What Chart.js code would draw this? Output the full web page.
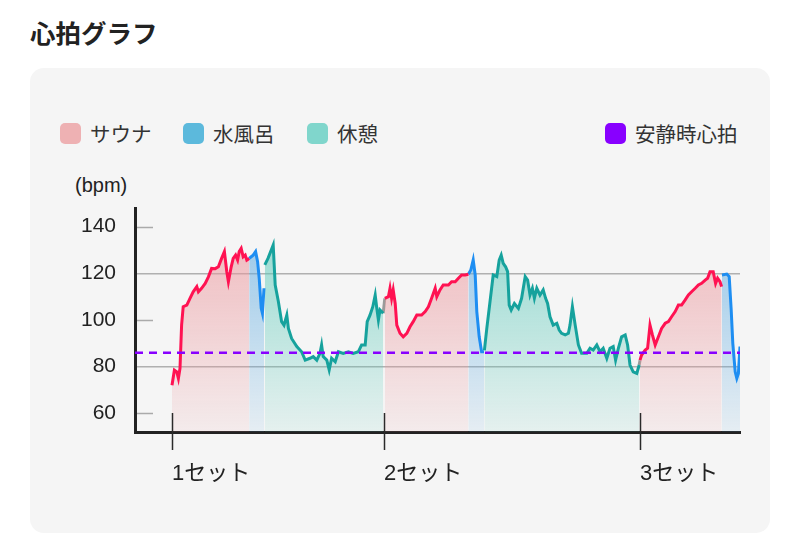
<!DOCTYPE html>
<html lang="ja">
<head>
<meta charset="utf-8">
<title>心拍グラフ</title>
<script src="https://cdn.jsdelivr.net/npm/chart.js@4.4.1/dist/chart.umd.min.js"></script>
<style>
  body { margin: 0; background: #fff; font-family: "Noto Sans CJK JP", sans-serif; color: #222; }
  .page { position: relative; width: 800px; height: 538px; overflow: hidden; }
  h1 { position: absolute; left: 30px; top: 14px; margin: 0; font-size: 25.5px; font-weight: 700; line-height: 36px; }
  .card { position: absolute; left: 30px; top: 68px; width: 740px; height: 465px; background: #f5f5f5; border-radius: 14px; }
  .legend-item { position: absolute; top: 121px; height: 24px; display: flex; align-items: center; font-size: 20.5px; color: #333; }
  .swatch { width: 21px; height: 21px; border-radius: 5px; margin-right: 9px; }
  .unit { position: absolute; left: 75px; top: 173px; font-family: "Liberation Sans", "Noto Sans CJK JP", sans-serif; font-size: 20px; line-height: 24px; color: #222; }
  .chart-box { position: absolute; left: 40px; top: 190px; width: 720px; height: 320px; }
</style>
</head>
<body>
<div class="page">
  <h1>心拍グラフ</h1>
  <div class="card"></div>
  <div class="legend-item" style="left:60px"><span class="swatch" style="background:#eeb1b3"></span>サウナ</div>
  <div class="legend-item" style="left:183px"><span class="swatch" style="background:#5cb9dc"></span>水風呂</div>
  <div class="legend-item" style="left:307px"><span class="swatch" style="background:#80d6cc"></span>休憩</div>
  <div class="legend-item" style="left:605px"><span class="swatch" style="background:#8800ff"></span>安静時心拍</div>
  <div class="unit">(bpm)</div>
  <div class="chart-box"><canvas id="grafico"></canvas></div>
</div>
<script>
// 経過時間(分) と 心拍(bpm)
const sauna1Min = [0, 0.6, 1.2, 1.6, 2.0, 2.4, 2.8, 3.7, 4.5, 5.3, 6.2, 6.6, 7.4, 8.3, 9.1, 9.9, 10.8, 11.6, 12.4, 13.1, 13.7, 14.1, 14.8, 15.3, 15.9, 16.4, 16.8, 17.3, 17.8, 18.3, 18.7, 19.3];
const sauna1Bpm = [72, 78.5, 77.8, 75, 79.3, 97.8, 105.7, 106.4, 109.3, 112.1, 114.3, 112.1, 113.6, 115.7, 118.5, 122.1, 122, 122.8, 126.4, 129.3, 120.7, 116.4, 122.8, 126.4, 127.8, 125.7, 129.3, 130.7, 127.1, 127.8, 125.7, 126.4];
const cold1Min = [19.3, 19.8, 20.3, 20.9, 21.4, 21.8, 22.3, 22.6, 23.0];
const cold1Bpm = [126.4, 127.1, 127.8, 129.3, 125, 117.9, 105, 102.9, 113.6];
const rest1Min = [23.2, 24.0, 25.3, 25.8, 26.6, 27.4, 28.0, 28.7, 29.1, 29.9, 31.2, 32.4, 33.3, 34.5, 35.3, 36.2, 37.0, 37.4, 37.8, 38.7, 39.3, 39.9, 40.8, 41.6, 42.8, 44.1, 45.3, 46.6, 47.4, 48.3, 48.8, 49.5, 50.2, 50.8, 51.2, 51.6, 52.0, 52.8];
const rest1Bpm = [123.6, 126.4, 132.1, 115, 107.8, 99.3, 97.8, 102.1, 96.4, 92.1, 88.6, 86.4, 82.8, 83.6, 84.3, 82.8, 85.7, 89.3, 84.3, 82.8, 78.6, 83.6, 82.1, 86.4, 85.7, 86.4, 85.7, 86.4, 89.3, 89.3, 99.3, 102.1, 105.7, 110.7, 105, 100, 104.3, 102.9];
const sauna2Min = [53.2, 54.1, 54.5, 54.9, 55.3, 55.8, 56.2, 57.0, 57.8, 58.7, 59.5, 60.3, 61.2, 62.4, 63.3, 64.1, 64.9, 65.8, 66.2, 67.0, 67.8, 69.1, 69.9, 70.8, 71.6, 72.4, 73.3, 74.1];
const sauna2Bpm = [109.3, 110, 113.6, 109.3, 112.9, 107.1, 97.8, 94.3, 92.8, 94.3, 97.1, 99.3, 102.1, 102.1, 103.6, 105.7, 109.3, 113.6, 110, 112.9, 115, 115, 116.4, 116.4, 117.9, 119.3, 119.3, 119.6];
const cold2Min = [74.1, 74.7, 75.3, 75.8, 76.2, 76.8, 77.4, 78.0];
const cold2Bpm = [119.6, 121.4, 125.7, 119.3, 103.6, 92.8, 86.4, 86.4];
const rest2Min = [78.1, 78.7, 79.5, 80.3, 81.2, 81.8, 82.3, 82.8, 83.4, 83.9, 84.3, 84.8, 85.6, 86.6, 87.4, 88.3, 88.9, 89.5, 90.1, 90.6, 91.2, 92.0, 92.8, 93.4, 93.9, 94.5, 95.3, 96.2, 96.8, 97.4, 98.3, 99.1, 99.5, 100.1, 100.8, 101.6, 102.4, 103.7, 104.5, 105.3, 106.2, 107.0, 107.8, 108.7, 109.5, 110.3, 110.9, 111.6, 112.4, 113.3, 113.9, 114.5, 115.3, 116.2, 116.8];
const rest2Bpm = [87, 96.4, 107.8, 119.3, 118.6, 125.7, 127.8, 124.3, 122.8, 120.7, 106.4, 104.3, 107.1, 105, 109.3, 118.6, 117.1, 110.7, 113.6, 109.3, 113.6, 110.7, 112.9, 109.3, 107.1, 101.4, 97.8, 98.6, 95.7, 94.3, 93.6, 94.3, 97.8, 105.7, 97.8, 89.3, 85.7, 85.7, 87.9, 87.1, 89.3, 86.4, 87.9, 83.6, 87.9, 88.6, 82.8, 87.9, 92.8, 93.6, 89.3, 80.7, 77.8, 77.1, 80.7];
const sauna3Min = [117.0, 117.4, 118.3, 118.9, 119.5, 120.1, 120.8, 121.6, 122.4, 123.3, 124.1, 124.9, 125.8, 126.6, 127.4, 128.3, 129.1, 129.9, 130.8, 131.6, 132.4, 133.3, 133.9, 134.5, 135.3, 135.9, 136.4, 137.0, 137.4];
const sauna3Bpm = [82.8, 85, 87.1, 87.9, 97.8, 93.6, 89.3, 92.8, 96.4, 98.6, 99.3, 101.4, 103.6, 106.4, 106.4, 108.6, 110.7, 112.1, 113.6, 115, 115.7, 117.1, 117.9, 120.7, 120.7, 115.7, 117.9, 116.4, 114.3];
const cold3Min = [137.5, 138.7, 139.3, 139.8, 140.2, 140.8, 141.2, 141.6, 142.0];
const cold3Bpm = [119.3, 119.7, 118.6, 104.3, 90, 77.8, 75, 77.1, 88.6];
// セット開始のつなぎ(灰色)
const link2Min = [52.8, 53.2];
const link2Bpm = [102.9, 109.3];
const link3Min = [116.8, 117.0];
const link3Bpm = [80.7, 82.8];

const restingBpm = 86;
const xRange = [-9.25, 142];
const yRange = [52, 148];
const yTicks = [60, 80, 100, 120, 140];
const yGridValues = [80, 120];
const setMin = [0, 53, 117];
const setLabels = ['1セット', '2セット', '3セット'];

const phaseStyle = {
  sauna: { line: '#ff1252', rgb: '236,150,156' },
  cold:  { line: '#1e8ef2', rgb: '95,172,226' },
  rest:  { line: '#16a29d', rgb: '92,202,186' }
};

const segmentos = [
  [sauna1Min, sauna1Bpm, 'sauna'], [cold1Min, cold1Bpm, 'cold'], [rest1Min, rest1Bpm, 'rest'],
  [sauna2Min, sauna2Bpm, 'sauna'], [cold2Min, cold2Bpm, 'cold'], [rest2Min, rest2Bpm, 'rest'],
  [sauna3Min, sauna3Bpm, 'sauna'], [cold3Min, cold3Bpm, 'cold']
];

function degradado(rgb) {
  return (ctx) => {
    const area = ctx.chart.chartArea;
    if (!area) return `rgba(${rgb},0.3)`;
    const g = ctx.chart.ctx.createLinearGradient(0, area.top, 0, area.bottom);
    g.addColorStop(0, `rgba(${rgb},0.68)`);
    g.addColorStop(1, `rgba(${rgb},0.1)`);
    return g;
  };
}

const puntos = (mins, bpms) => mins.map((m, i) => ({ x: m, y: bpms[i] }));

const datasets = [{
  label: '安静時心拍',
  data: xRange.map(x => ({ x: x, y: restingBpm })),
  borderColor: '#8800ff',
  borderWidth: 2.5,
  borderDash: [8, 6],
  pointRadius: 0,
  fill: false,
  order: 0
}];

[[link2Min, link2Bpm], [link3Min, link3Bpm]].forEach(([mins, bpms]) => {
  datasets.push({
    label: 'link',
    data: puntos(mins, bpms),
    borderColor: '#9a9a9a',
    borderWidth: 3,
    pointRadius: 0,
    fill: false,
    order: 2
  });
});

segmentos.forEach(([mins, bpms, tipo]) => {
  const st = phaseStyle[tipo];
  datasets.push({
    label: tipo,
    data: puntos(mins, bpms),
    borderColor: st.line,
    borderWidth: 3,
    backgroundColor: degradado(st.rgb),
    fill: 'start',
    pointRadius: 0,
    tension: 0,
    order: 1
  });
});

// 軸の目盛り線(短い線)
const marcas = {
  id: 'marcas',
  afterDatasetsDraw(chart) {
    const { ctx, chartArea, scales } = chart;
    ctx.save();
    ctx.lineWidth = 1.5;
    ctx.strokeStyle = '#2a2a2a';
    setMin.forEach(v => {
      const x = Math.round(scales.x.getPixelForValue(v)) + 0.5;
      ctx.beginPath();
      ctx.moveTo(x, chartArea.bottom - 19);
      ctx.lineTo(x, chartArea.bottom + 18);
      ctx.stroke();
    });
    ctx.strokeStyle = '#aaaaaa';
    yTicks.filter(v => !yGridValues.includes(v)).forEach(v => {
      const y = Math.round(scales.y.getPixelForValue(v)) + 0.5;
      ctx.beginPath();
      ctx.moveTo(chartArea.left + 2, y);
      ctx.lineTo(chartArea.left + 18, y);
      ctx.stroke();
    });
    ctx.restore();
  }
};

const fuente = '"Liberation Sans", "Noto Sans CJK JP", sans-serif';

new Chart(document.getElementById('grafico'), {
  type: 'line',
  data: { datasets: datasets },
  options: {
    responsive: true,
    maintainAspectRatio: false,
    animation: false,
    layout: { padding: { top: 18, right: 20, left: 0, bottom: 0 } },
    plugins: { legend: { display: false }, tooltip: { enabled: false } },
    scales: {
      x: {
        type: 'linear',
        min: xRange[0],
        max: xRange[1],
        afterBuildTicks: s => { s.ticks = setMin.map(v => ({ value: v })); },
        afterFit: s => { s.height = 78; s.paddingLeft = 0; s.paddingRight = 0; },
        grid: { color: 'transparent', drawTicks: false },
        border: { display: true, color: '#222', width: 3 },
        ticks: {
          autoSkip: false,
          maxRotation: 0,
          align: 'start',
          padding: 29,
          color: '#222',
          font: { family: fuente, size: 22 },
          callback: (v, i) => setLabels[i]
        }
      },
      y: {
        min: yRange[0],
        max: yRange[1],
        afterBuildTicks: s => { s.ticks = yTicks.map(v => ({ value: v })); },
        afterFit: s => { s.width = 95; s.paddingTop = 0; s.paddingBottom = 0; },
        grid: {
          drawTicks: false,
          lineWidth: 1.5,
          color: c => (c.tick && yGridValues.includes(c.tick.value)) ? '#b0b0b0' : 'transparent'
        },
        border: { display: true, color: '#222', width: 3 },
        ticks: {
          padding: 19,
          color: '#222',
          font: { family: fuente, size: 21 }
        }
      }
    }
  },
  plugins: [marcas]
});
</script>
</body>
</html>
